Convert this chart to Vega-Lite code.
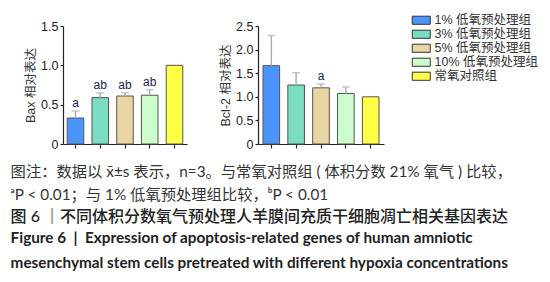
{
  "$schema": "https://vega.github.io/schema/vega-lite/v6.json",
  "background": "white",
  "padding": {"left": 10, "top": 14, "right": 0, "bottom": 0},
  "datasets": {
    "expr": [
      {"gene": "Bax", "group": "1% 低氧预处理组", "value": 0.33, "upper": 0.42, "sig": "a"},
      {"gene": "Bax", "group": "3% 低氧预处理组", "value": 0.59, "upper": 0.65, "sig": "ab"},
      {"gene": "Bax", "group": "5% 低氧预处理组", "value": 0.61, "upper": 0.65, "sig": "ab"},
      {"gene": "Bax", "group": "10% 低氧预处理组", "value": 0.62, "upper": 0.69, "sig": "ab"},
      {"gene": "Bax", "group": "常氧对照组", "value": 1.0, "upper": 1.0, "sig": ""},
      {"gene": "Bcl-2", "group": "1% 低氧预处理组", "value": 1.66, "upper": 2.30, "sig": ""},
      {"gene": "Bcl-2", "group": "3% 低氧预处理组", "value": 1.25, "upper": 1.51, "sig": ""},
      {"gene": "Bcl-2", "group": "5% 低氧预处理组", "value": 1.19, "upper": 1.27, "sig": "a"},
      {"gene": "Bcl-2", "group": "10% 低氧预处理组", "value": 1.07, "upper": 1.21, "sig": ""},
      {"gene": "Bcl-2", "group": "常氧对照组", "value": 1.0, "upper": 1.0, "sig": ""}
    ]
  },
  "title": {
    "text": ["Figure 6\u00a0\u00a0|\u00a0\u00a0Expression of apoptosis-related genes of human amniotic", "mesenchymal stem cells pretreated with different hypoxia concentrations"],
    "orient": "bottom", "anchor": "start", "frame": "bounds",
    "font": "Lato", "fontSize": 15.3, "fontWeight": "bold", "color": "#222",
    "lineHeight": 25, "offset": 6
  },
  "vconcat": [
    {
      "title": {
        "text": ["图注：数据以 x̄±s 表示，n=3。与常氧对照组 ( 体积分数 21% 氧气 ) 比较，", "ᵃP < 0.01；与 1% 低氧预处理组比较，ᵇP < 0.01"],
        "subtitle": ["图 6 ｜不同体积分数氧气预处理人羊膜间充质干细胞凋亡相关基因表达"],
        "orient": "bottom", "anchor": "start", "frame": "bounds", "dx": -14, "offset": 14,
        "font": "Lato, Noto Sans CJK SC", "fontSize": 15.3, "fontWeight": "normal", "color": "#333", "lineHeight": 23.3,
        "subtitleFont": "Lato, Noto Sans CJK SC", "subtitleFontSize": 16, "subtitleFontWeight": 500, "subtitleColor": "#222", "subtitlePadding": 6
      },
      "hconcat": [
        {
          "width": 124, "height": 118,
          "data": {"name": "expr"},
          "transform": [{"filter": "datum.gene === 'Bax'"}],
          "encoding": {
            "x": {"field": "group", "type": "nominal",
              "scale": {"domain": ["1% 低氧预处理组", "3% 低氧预处理组", "5% 低氧预处理组", "10% 低氧预处理组", "常氧对照组"], "paddingInner": 0.33, "paddingOuter": 0.17},
              "axis": {"labels": false, "title": null, "ticks": true, "tickSize": 4, "domainColor": "#222", "tickColor": "#222", "domainWidth": 1.2, "tickWidth": 1.2}}
          },
          "layer": [
            {
              "mark": {"type": "bar", "stroke": "#555", "strokeWidth": 1},
              "encoding": {
                "y": {"field": "value", "type": "quantitative", "title": "Bax 相对表达",
                  "scale": {"domain": [0, 1.5], "nice": false},
                  "axis": {"values": [0, 0.5, 1.0, 1.5], "labelOverlap": false, "labelExpr": "datum.value === 0 ? '0' : format(datum.value, '.1f')"}},
                "color": {"field": "group", "type": "nominal",
                  "scale": {"domain": ["1% 低氧预处理组", "3% 低氧预处理组", "5% 低氧预处理组", "10% 低氧预处理组", "常氧对照组"], "range": ["#4a94fb", "#7adcc0", "#e8d5a2", "#ccfdcc", "#ffff44"]},
                  "legend": null}
              }
            },
            {
              "transform": [{"filter": "datum.upper > datum.value"}],
              "mark": {"type": "rule", "color": "#b0b0b0", "strokeWidth": 1.5},
              "encoding": {
                "y": {"field": "value", "type": "quantitative", "title": "Bax 相对表达",
                  "axis": {"values": [0, 0.5, 1.0, 1.5], "labelOverlap": false, "labelExpr": "datum.value === 0 ? '0' : format(datum.value, '.1f')"}},
                "y2": {"field": "upper"}
              }
            },
            {
              "transform": [{"filter": "datum.upper > datum.value"}],
              "mark": {"type": "tick", "color": "#b0b0b0", "size": 8, "thickness": 1.5},
              "encoding": {
                "y": {"field": "upper", "type": "quantitative", "title": "Bax 相对表达",
                  "axis": {"values": [0, 0.5, 1.0, 1.5], "labelOverlap": false, "labelExpr": "datum.value === 0 ? '0' : format(datum.value, '.1f')"}}
              }
            },
            {
              "transform": [{"filter": "datum.sig !== ''"}],
              "mark": {"type": "text", "baseline": "alphabetic", "dy": -4, "font": "Liberation Sans", "fontSize": 12, "color": "#1c1c48"},
              "encoding": {
                "y": {"field": "upper", "type": "quantitative", "title": "Bax 相对表达",
                  "axis": {"values": [0, 0.5, 1.0, 1.5], "labelOverlap": false, "labelExpr": "datum.value === 0 ? '0' : format(datum.value, '.1f')"}},
                "text": {"field": "sig"}
              }
            }
          ]
        },
        {
          "width": 126, "height": 118,
          "data": {"name": "expr"},
          "transform": [{"filter": "datum.gene === 'Bcl-2'"}],
          "encoding": {
            "x": {"field": "group", "type": "nominal",
              "scale": {"domain": ["1% 低氧预处理组", "3% 低氧预处理组", "5% 低氧预处理组", "10% 低氧预处理组", "常氧对照组"], "paddingInner": 0.33, "paddingOuter": 0.2},
              "axis": {"labels": false, "title": null, "ticks": true, "tickSize": 4, "domainColor": "#222", "tickColor": "#222", "domainWidth": 1.2, "tickWidth": 1.2}}
          },
          "layer": [
            {
              "mark": {"type": "bar", "stroke": "#555", "strokeWidth": 1},
              "encoding": {
                "y": {"field": "value", "type": "quantitative", "title": "Bcl-2 相对表达",
                  "scale": {"domain": [0, 2.5], "nice": false},
                  "axis": {"values": [0, 0.5, 1.0, 1.5, 2.0, 2.5], "labelOverlap": false, "labelExpr": "datum.value === 0 ? '0' : format(datum.value, '.1f')"}},
                "color": {"field": "group", "type": "nominal",
                  "scale": {"domain": ["1% 低氧预处理组", "3% 低氧预处理组", "5% 低氧预处理组", "10% 低氧预处理组", "常氧对照组"], "range": ["#4a94fb", "#7adcc0", "#e8d5a2", "#ccfdcc", "#ffff44"]},
                  "legend": {"orient": "none", "legendX": 157, "legendY": -12, "title": null,
                    "symbolType": "M-2,-0.9H2V0.9H-2Z", "symbolSize": 81, "symbolStrokeColor": "#333", "symbolStrokeWidth": 1, "symbolOpacity": 1,
                    "labelFont": "Liberation Sans, Noto Sans CJK SC", "labelFontSize": 12.5, "labelColor": "#333", "labelOffset": 7, "rowPadding": 1, "padding": 0, "labelLimit": 200}}
              }
            },
            {
              "transform": [{"filter": "datum.upper > datum.value"}],
              "mark": {"type": "rule", "color": "#b0b0b0", "strokeWidth": 1.5},
              "encoding": {
                "y": {"field": "value", "type": "quantitative", "title": "Bcl-2 相对表达",
                  "axis": {"values": [0, 0.5, 1.0, 1.5, 2.0, 2.5], "labelOverlap": false, "labelExpr": "datum.value === 0 ? '0' : format(datum.value, '.1f')"}},
                "y2": {"field": "upper"}
              }
            },
            {
              "transform": [{"filter": "datum.upper > datum.value"}],
              "mark": {"type": "tick", "color": "#b0b0b0", "size": 8, "thickness": 1.5},
              "encoding": {
                "y": {"field": "upper", "type": "quantitative", "title": "Bcl-2 相对表达",
                  "axis": {"values": [0, 0.5, 1.0, 1.5, 2.0, 2.5], "labelOverlap": false, "labelExpr": "datum.value === 0 ? '0' : format(datum.value, '.1f')"}}
              }
            },
            {
              "transform": [{"filter": "datum.sig !== ''"}],
              "mark": {"type": "text", "baseline": "alphabetic", "dy": -4, "font": "Liberation Sans", "fontSize": 12, "color": "#1c1c48"},
              "encoding": {
                "y": {"field": "upper", "type": "quantitative", "title": "Bcl-2 相对表达",
                  "axis": {"values": [0, 0.5, 1.0, 1.5, 2.0, 2.5], "labelOverlap": false, "labelExpr": "datum.value === 0 ? '0' : format(datum.value, '.1f')"}},
                "text": {"field": "sig"}
              }
            }
          ]
        }
      ],
      "spacing": 71,
      "bounds": "flush",
      "resolve": {"scale": {"color": "independent"}, "legend": {"color": "independent"}}
    }
  ],
  "config": {
    "view": {"stroke": null},
    "axis": {
      "grid": false,
      "domainColor": "#222", "domainWidth": 1.2,
      "tickColor": "#222", "tickWidth": 1.2, "tickSize": 3,
      "labelColor": "#222", "labelFont": "Liberation Sans", "labelFontSize": 12.5, "labelPadding": 2,
      "titleFont": "Liberation Sans, Noto Sans CJK SC", "titleFontSize": 12.5, "titleFontWeight": "normal", "titleColor": "#333", "titlePadding": 3
    }
  }
}
